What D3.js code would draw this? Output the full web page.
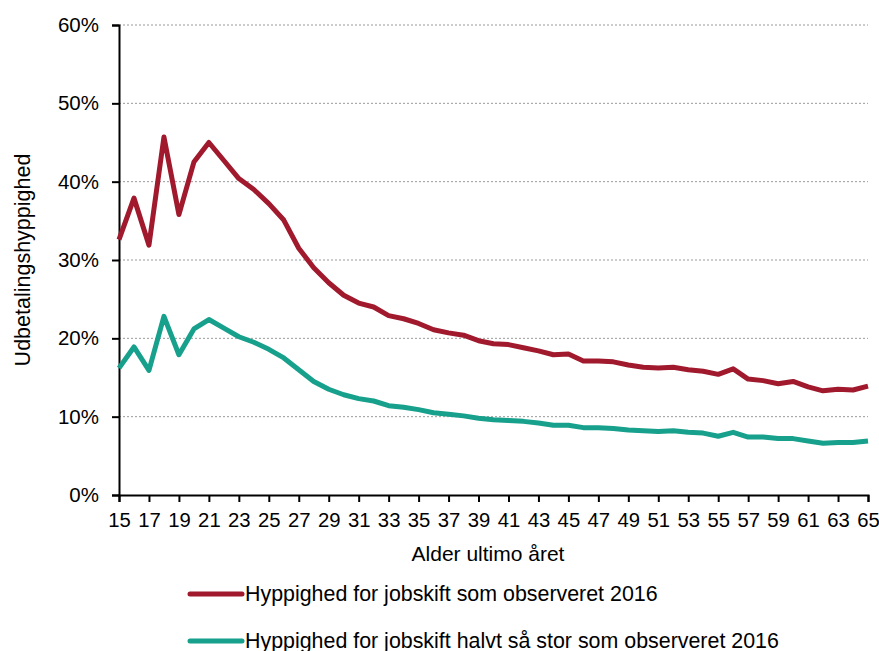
<!DOCTYPE html>
<html><head><meta charset="utf-8">
<script src="https://cdn.jsdelivr.net/npm/d3@7"></script>
<style>body{margin:0;background:#fff;} text{font-family:"Liberation Sans",Arial,sans-serif;}</style>
</head><body><svg id="c" width="879" height="651"></svg>
<script>
const ages = d3.range(15, 66);
const observed = [32.6,37.9,31.9,45.7,35.8,42.5,45.0,42.7,40.4,39.0,37.2,35.1,31.5,29.0,27.1,25.5,24.5,24.0,22.9,22.5,21.9,21.1,20.7,20.4,19.7,19.3,19.2,18.8,18.4,17.9,18.0,17.1,17.1,17.0,16.6,16.3,16.2,16.3,16.0,15.8,15.4,16.1,14.8,14.6,14.2,14.5,13.8,13.3,13.5,13.4,13.9];
const halved = [16.2,18.9,15.9,22.8,17.9,21.2,22.4,21.3,20.2,19.5,18.6,17.5,16.0,14.5,13.5,12.8,12.3,12.0,11.4,11.2,10.9,10.5,10.3,10.1,9.8,9.6,9.5,9.4,9.2,8.9,8.9,8.6,8.6,8.5,8.3,8.2,8.1,8.2,8.0,7.9,7.5,8.0,7.4,7.4,7.2,7.2,6.9,6.6,6.7,6.7,6.9];
const yTicks = [0,10,20,30,40,50,60];
const xTickLabels = d3.range(15, 66, 2);
const seriesNames = ["Hyppighed for jobskift som observeret 2016","Hyppighed for jobskift halvt så stor som observeret 2016"];
const colors = ["#a0192d","#17a08c"];

const svg = d3.select("#c");
const L=119, R=868, T=25, B=495;
const x = d3.scaleLinear().domain([15,65]).range([L,R]);
const y = d3.scaleLinear().domain([0,60]).range([B,T]);

// gridlines
svg.append("g").selectAll("line").data(yTicks.filter(d=>d>0)).join("line")
  .attr("x1",L).attr("x2",R).attr("y1",d=>y(d)).attr("y2",d=>y(d))
  .attr("stroke","#999").attr("stroke-width",1).attr("stroke-dasharray","2,2");

// y axis
const ya = svg.append("g").attr("transform",`translate(${L},0)`)
  .call(d3.axisLeft(y).tickValues(yTicks).tickFormat(d=>d+"%").tickSize(7).tickPadding(13));
ya.select(".domain").attr("stroke","#000").attr("stroke-width",2);
ya.selectAll(".tick line").attr("stroke","#000").attr("stroke-width",2);
ya.selectAll("text").attr("font-size",20.5).attr("fill","#000").attr("font-family","Liberation Sans, Arial, sans-serif");

// x axis
const xa = svg.append("g").attr("transform",`translate(0,${B})`)
  .call(d3.axisBottom(x).tickValues(xTickLabels).tickFormat(d=>d).tickSize(7).tickPadding(11));
xa.select(".domain").attr("stroke","#000").attr("stroke-width",2);
xa.selectAll(".tick line").attr("stroke","#000").attr("stroke-width",2);
xa.selectAll("text").attr("font-size",20.3).attr("fill","#000").attr("font-family","Liberation Sans, Arial, sans-serif");

// lines
const line = d3.line().x((d,i)=>x(ages[i])).y(d=>y(d));
[observed, halved].forEach((s,k)=>{
  svg.append("path").datum(s).attr("d",line).attr("fill","none")
    .attr("stroke",colors[k]).attr("stroke-width",5).attr("stroke-linejoin","round");
});

// titles
svg.append("text").attr("x",488).attr("y",561).attr("text-anchor","middle")
  .attr("font-size",21).text("Alder ultimo året");
svg.append("text").attr("transform","translate(30,260) rotate(-90)").attr("text-anchor","middle")
  .attr("font-size",21.5).text("Udbetalingshyppighed");

// legend
const lg = svg.append("g");
seriesNames.forEach((n,k)=>{
  const yy = 594 + k*47;
  lg.append("line").attr("x1",190).attr("x2",242).attr("y1",yy).attr("y2",yy)
    .attr("stroke",colors[k]).attr("stroke-width",5).attr("stroke-linecap","round");
  lg.append("text").attr("x",245).attr("y",yy+7).attr("font-size",21.4).text(n);
});
</script></body></html>
